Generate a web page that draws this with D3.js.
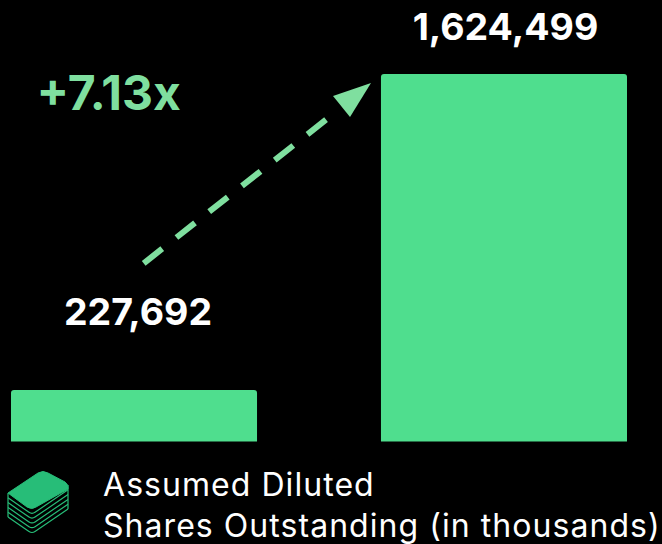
<!DOCTYPE html>
<html>
<head>
<meta charset="utf-8">
<script src="https://cdn.jsdelivr.net/npm/d3@7"></script>
<style>
  html, body { margin: 0; padding: 0; background: #000; }
  svg { display: block; }
  text { font-family: Inter, "Noto Sans", sans-serif; }
</style>
</head>
<body>
<div id="chart"></div>
<script>
const categories = ['Before', 'After'];
const shares = [227692, 1624499];
const shareLabels = ['227,692', '1,624,499'];
const multipleLabel = '+7.13x';
const legendLines = ['Assumed Diluted', 'Shares Outstanding (in thousands)'];

const width = 662, height = 544;

const svg = d3.select('#chart')
    .append('svg')
    .attr('width', width)
    .attr('height', height);

svg.append('rect')
    .attr('width', width)
    .attr('height', height)
    .attr('fill', '#000');

const x = d3.scaleBand()
    .domain(categories)
    .range([11, 627])
    .paddingInner(0.335);

const y = d3.scaleLinear()
    .domain([0, d3.max(shares)])
    .range([441.5, 74]);

// bars, top corners slightly rounded
svg.selectAll('.bar')
    .data(shares)
    .enter()
    .append('path')
    .attr('class', 'bar')
    .attr('fill', '#4fde8e')
    .attr('d', (d, i) => {
        let x0 = x(categories[i]), x1 = x0 + x.bandwidth(), top = y(d), r = 3;
        return `M${x0},${y(0)}V${top + r}Q${x0},${top} ${x0 + r},${top}H${x1 - r}Q${x1},${top} ${x1},${top + r}V${y(0)}Z`;
    });

// value labels
svg.selectAll('.value')
    .data(shareLabels)
    .enter()
    .append('text')
    .attr('class', 'value')
    .attr('x', (d, i) => x(categories[i]) + x.bandwidth() / 2 + (i == 0 ? 4 : 1.5))
    .attr('y', (d, i) => i == 0 ? 325 : 40)
    .attr('text-anchor', 'middle')
    .attr('fill', '#fff')
    .style('font-size', '37.5px')
    .style('font-weight', 700)
    .text(d => d);

svg.append('text')
    .attr('x', 36.5)
    .attr('y', 109.5)
    .attr('fill', '#7fdf9f')
    .style('font-size', '48px')
    .style('font-weight', 700)
    .text(multipleLabel);

// dashed arrow
svg.append('line')
    .attr('x1', 143.7)
    .attr('y1', 263.3)
    .attr('x2', 327.3)
    .attr('y2', 118.7)
    .attr('stroke', '#7fdf9f')
    .attr('stroke-width', 6)
    .attr('stroke-dasharray', '23.6 18.1');

svg.append('path')
    .attr('d', 'M371,83L333,96L350,117Z')
    .attr('fill', '#7fdf9f');

// legend icon
const icon = svg.append('g');
d3.range(1, 6).forEach(i => {
    icon.append('path')
        .attr('d', 'M8,493L29,507.5Q32,509.5 35,507.5L68,485')
        .attr('transform', `translate(0,${i * 4.8})`)
        .attr('fill', 'none')
        .attr('stroke', '#27bd78')
        .attr('stroke-width', 1.2);
});
icon.append('path')
    .attr('d', 'M8,493V517M68,485V509')
    .attr('stroke', '#27bd78')
    .attr('stroke-width', 1.2);
icon.append('path')
    .attr('d', 'M8,493L38,473Q43,470 48,473L65,482Q69,485 68,489L36,507Q32,510 27,507Z')
    .attr('fill', '#27bd78')
    .attr('stroke', '#27bd78')
    .attr('stroke-width', 1)
    .attr('stroke-linejoin', 'round');

// legend text
svg.selectAll('.legend')
    .data(legendLines)
    .enter()
    .append('text')
    .attr('class', 'legend')
    .attr('x', 103)
    .attr('y', (d, i) => 496 + i * 41)
    .attr('fill', '#fff')
    .style('font-size', '32px')
    .style('letter-spacing', '1.05px')
    .style('font-weight', 400)
    .text(d => d);
</script>
</body>
</html>
